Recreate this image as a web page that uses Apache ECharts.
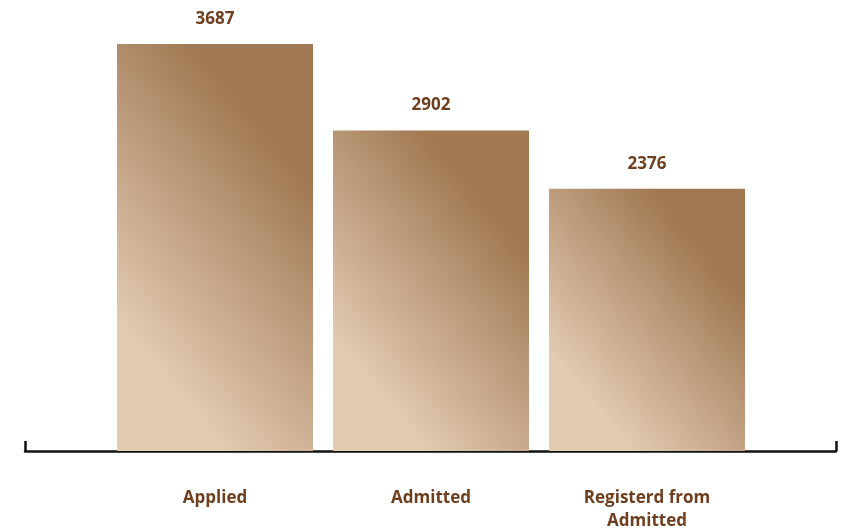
<!DOCTYPE html>
<html>
<head>
<meta charset="utf-8">
<script src="https://cdn.jsdelivr.net/npm/echarts@6/dist/echarts.min.js"></script>
<style>
html,body{margin:0;padding:0;background:#fff;}
#chart{width:845px;height:529px;}
</style>
</head>
<body>
<div id="chart"></div>
<script>
var categories = ['Applied', 'Admitted', 'Registerd from\nAdmitted'];
var values = [3687, 2902, 2376];

var Y_MAX = 4000;
var AXIS_Y = 451;
var GRID_TOP = 9.4;
var GRID_BOTTOM = 529 - AXIS_Y;
var BAR_W = 196;
var LIGHT = '#E2CAB3';
var DARK = '#A07852';
var TEXT = '#6E3F1F';

function barGradient(v) {
  var h = v / Y_MAX * (AXIS_Y - GRID_TOP);
  var dx = 0.768, dy = 0.640;
  var L = dx * BAR_W + dy * h;
  return new echarts.graphic.LinearGradient(0, 1, L * dx / BAR_W, 1 - L * dy / h, [
    {offset: 0, color: LIGHT},
    {offset: 0.2, color: LIGHT},
    {offset: 0.78, color: DARK},
    {offset: 1, color: DARK}
  ]);
}

var chart = echarts.init(document.getElementById('chart'), null, {renderer: 'canvas'});
chart.setOption({
  animation: false,
  backgroundColor: '#fff',
  grid: [
    {left: 107, right: 90, top: GRID_TOP, bottom: GRID_BOTTOM, containLabel: false, outerBoundsMode: 'none'},
    {left: 25, right: 9, top: GRID_TOP, bottom: GRID_BOTTOM, containLabel: false, outerBoundsMode: 'none'}
  ],
  xAxis: [
    {
      type: 'category', gridIndex: 0, data: categories,
      axisLine: {show: false}, axisTick: {show: false},
      axisLabel: {
        margin: 36, color: TEXT, fontSize: 17, fontWeight: 'bold',
        fontFamily: 'Open Sans', lineHeight: 23, interval: 0
      }
    },
    {
      type: 'value', gridIndex: 1, min: 0, max: 1, interval: 1,
      axisLine: {show: true, lineStyle: {color: '#111', width: 2.5}},
      axisTick: {show: true, inside: true, length: 10, lineStyle: {color: '#111', width: 2.5}},
      axisLabel: {show: false}, splitLine: {show: false}
    }
  ],
  yAxis: [
    {type: 'value', gridIndex: 0, min: 0, max: Y_MAX, show: false, splitLine: {show: false}},
    {type: 'value', gridIndex: 1, min: 0, max: 1, show: false, splitLine: {show: false}}
  ],
  series: [{
    type: 'bar', xAxisIndex: 0, yAxisIndex: 0,
    barWidth: BAR_W,
    data: values.map(function (v) {
      return {value: v, itemStyle: {color: barGradient(v)}};
    }),
    label: {
      show: true, position: 'top', distance: 15,
      color: TEXT, fontSize: 17, fontWeight: 'bold', fontFamily: 'Open Sans', lineHeight: 20
    }
  }]
});
</script>
</body>
</html>
